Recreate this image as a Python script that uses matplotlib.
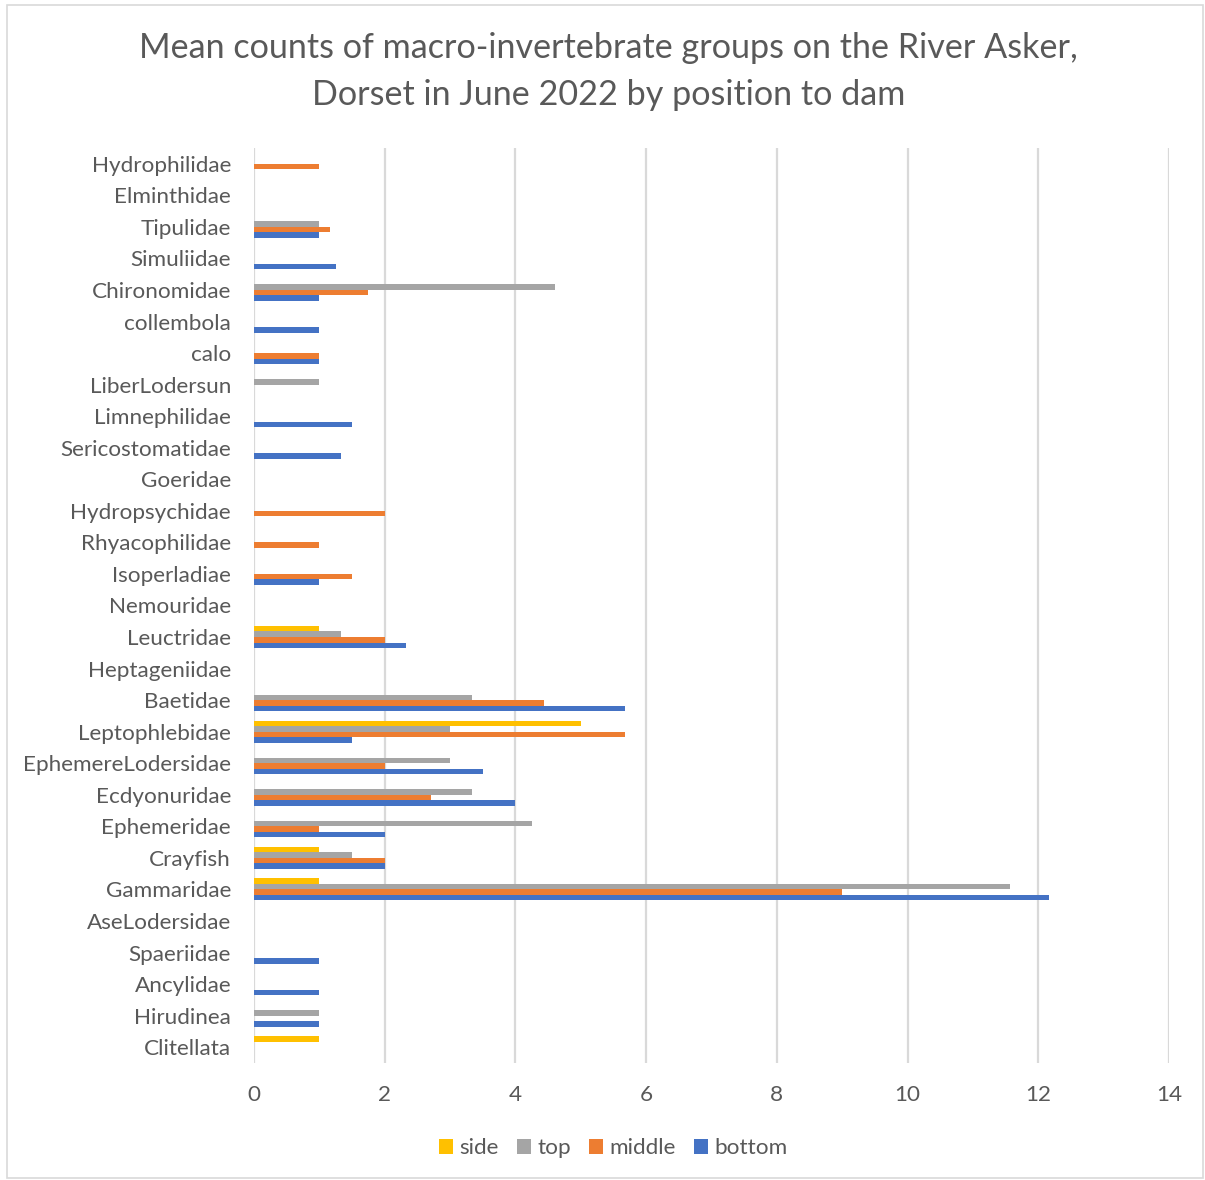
import numpy as np
import matplotlib.pyplot as plt
from matplotlib.patches import Rectangle

# families, listed bottom to top as they appear on the axis
families = ['Clitellata', 'Hirudinea', 'Ancylidae', 'Spaeriidae', 'AseLodersidae',
            'Gammaridae', 'Crayfish', 'Ephemeridae', 'Ecdyonuridae', 'EphemereLodersidae',
            'Leptophlebidae', 'Baetidae', 'Heptageniidae', 'Leuctridae', 'Nemouridae',
            'Isoperladiae', 'Rhyacophilidae', 'Hydropsychidae', 'Goeridae', 'Sericostomatidae',
            'Limnephilidae', 'LiberLodersun', 'calo', 'collembola', 'Chironomidae',
            'Simuliidae', 'Tipulidae', 'Elminthidae', 'Hydrophilidae']

# mean counts per position (0 = not recorded)
bottom = [0, 1, 1, 1, 0, 12.17, 2, 2, 4, 3.5, 1.5, 5.67, 0, 2.33, 0,
          1, 0, 0, 0, 1.33, 1.5, 0, 1, 1, 1, 1.25, 1, 0, 0]
middle = [0, 0, 0, 0, 0, 9, 2, 1, 2.71, 2, 5.67, 4.43, 0, 2, 0,
          1.5, 1, 2, 0, 0, 0, 0, 1, 0, 1.75, 0, 1.17, 0, 1]
top = [0, 1, 0, 0, 0, 11.57, 1.5, 4.25, 3.33, 3, 3, 3.33, 0, 1.33, 0,
       0, 0, 0, 0, 0, 0, 1, 0, 0, 4.6, 0, 1, 0, 0]
side = [1, 0, 0, 0, 0, 1, 1, 0, 0, 0, 5, 0, 0, 1, 0,
        0, 0, 0, 0, 0, 0, 0, 0, 0, 0, 0, 0, 0, 0]

series = [('bottom', bottom, '#4472C4'),
          ('middle', middle, '#ED7D31'),
          ('top', top, '#A5A5A5'),
          ('side', side, '#FFC000')]

plt.rcParams['font.family'] = ['Lato', 'DejaVu Sans']
txt = '#595959'

fig = plt.figure(figsize=(12.05, 11.8), dpi=100)
ax = fig.add_axes([0.2108, 0.0992, 0.7593, 0.7754])

y = np.arange(len(families))
h = 0.175
handles = {}
for k, (name, vals, col) in enumerate(series):
    b = ax.barh(y + (k - 1.5) * h, vals, height=h, color=col, label=name, zorder=3)
    handles[name] = b

ax.set_xlim(0, 14)
ax.set_ylim(-0.5, len(families) - 0.5)
ax.set_xticks(np.arange(0, 15, 2))
ax.set_yticks(y)
ax.set_yticklabels(families)
ax.tick_params(axis='both', length=0, labelsize=16.2, colors=txt)
ax.tick_params(axis='y', pad=16.5)
ax.tick_params(axis='x', pad=16)
ax.grid(axis='x', color='#D9D9D9', linewidth=1.6, zorder=0)
for s in ax.spines.values():
    s.set_visible(False)

fig.text(0.505, 1 - 48 / 1180, 'Mean counts of macro-invertebrate groups on the River Asker,',
         ha='center', va='center', fontsize=24.6, color=txt)
fig.text(0.505, 1 - 95 / 1180, 'Dorset in June 2022 by position to dam',
         ha='center', va='center', fontsize=24.6, color=txt)

order = ['side', 'top', 'middle', 'bottom']
fig.legend([handles[n] for n in order], order, loc='center', bbox_to_anchor=(0.509, 0.027),
           ncol=4, frameon=False, fontsize=16.2, labelcolor=txt, handlelength=0.62,
           handleheight=0.62, handletextpad=0.3, columnspacing=0.8)

fig.patches.append(Rectangle((0.006, 0.002), 0.992, 0.994, transform=fig.transFigure,
                             fill=False, edgecolor='#D9D9D9', linewidth=1.2))

fig.savefig('out.png', dpi=100)
